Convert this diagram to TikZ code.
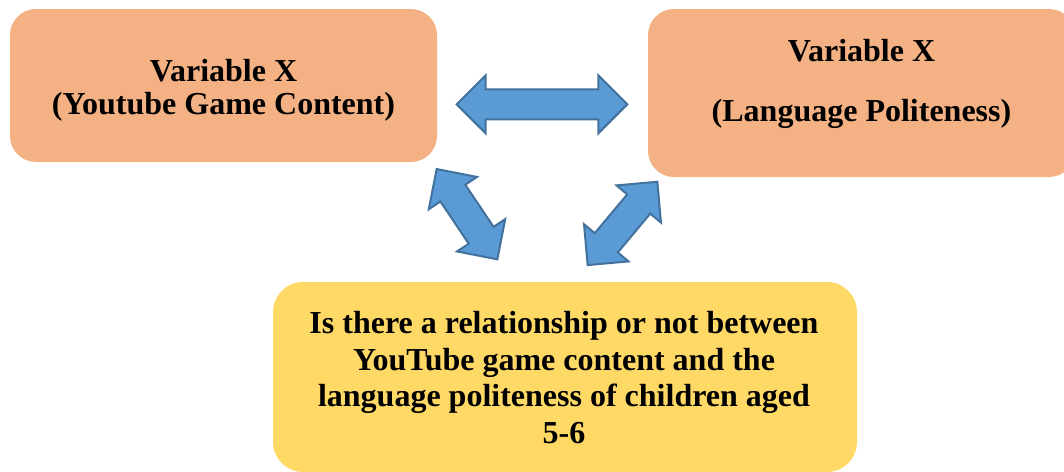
\documentclass[tikz,border=0pt]{standalone}
\usepackage{fontspec}
\setmainfont{Liberation Serif}
\definecolor{boxorange}{HTML}{F4B183}
\definecolor{boxyellow}{HTML}{FFD966}
\definecolor{arrowblue}{HTML}{5B9BD5}
\definecolor{arrowedge}{HTML}{41719C}
% block double arrow: centre x, centre y, angle, half length (px units)
\newcommand\blockarrow[4]{%
\begin{scope}[shift={(#1,#2)}, rotate=#3]
\draw[blockarrowstyle] (-#4,0) -- (-#4+29,29) -- (-#4+29,15) -- (#4-29,15) -- (#4-29,29) -- (#4,0)
  -- (#4-29,-29) -- (#4-29,-15) -- (-#4+29,-15) -- (-#4+29,-29) -- cycle;
\end{scope}}
\begin{document}
\begin{tikzpicture}[x=0.5pt,y=-0.5pt,
  box/.style={rounded corners=13pt, minimum width=213.5pt, inner sep=0pt},
  lbl/.style={font=\fontsize{16}{16.5}\selectfont\bfseries, align=center, inner sep=0pt},
  blockarrowstyle/.style={fill=arrowblue, draw=arrowedge, line width=1pt, line join=miter}]
\useasboundingbox (0,0) rectangle (1064,471);
\clip (0,0) rectangle (1064,471);
% boxes
\node[box, fill=boxorange, minimum height=76.5pt] (ga) at (223.5,85.5) {};
\node[box, fill=boxorange, minimum height=84pt] (gb) at (861.5,93) {};
\node[box, fill=boxyellow, minimum width=292pt, minimum height=95pt, rounded corners=15pt] (gc) at (565,377) {};
% texts
\node[lbl] (ta) at (223.5,90) {Variable X\\(Youtube Game Content)};
\node[lbl, font=\fontsize{16}{30}\selectfont\bfseries] (tb) at (861.5,84) {Variable X\\(Language Politeness)};
\node[lbl, font=\fontsize{16}{18.2}\selectfont\bfseries] (tc) at (564,377.6) {Is there a relationship or not between\\YouTube game content and the\\language politeness of children aged\\5-6};
% arrows
\blockarrow{542}{104.3}{0}{85.3}
\blockarrow{467}{214.2}{-56.1}{54.4}
\blockarrow{622.5}{223.4}{50.1}{54.3}
\end{tikzpicture}
\end{document}
